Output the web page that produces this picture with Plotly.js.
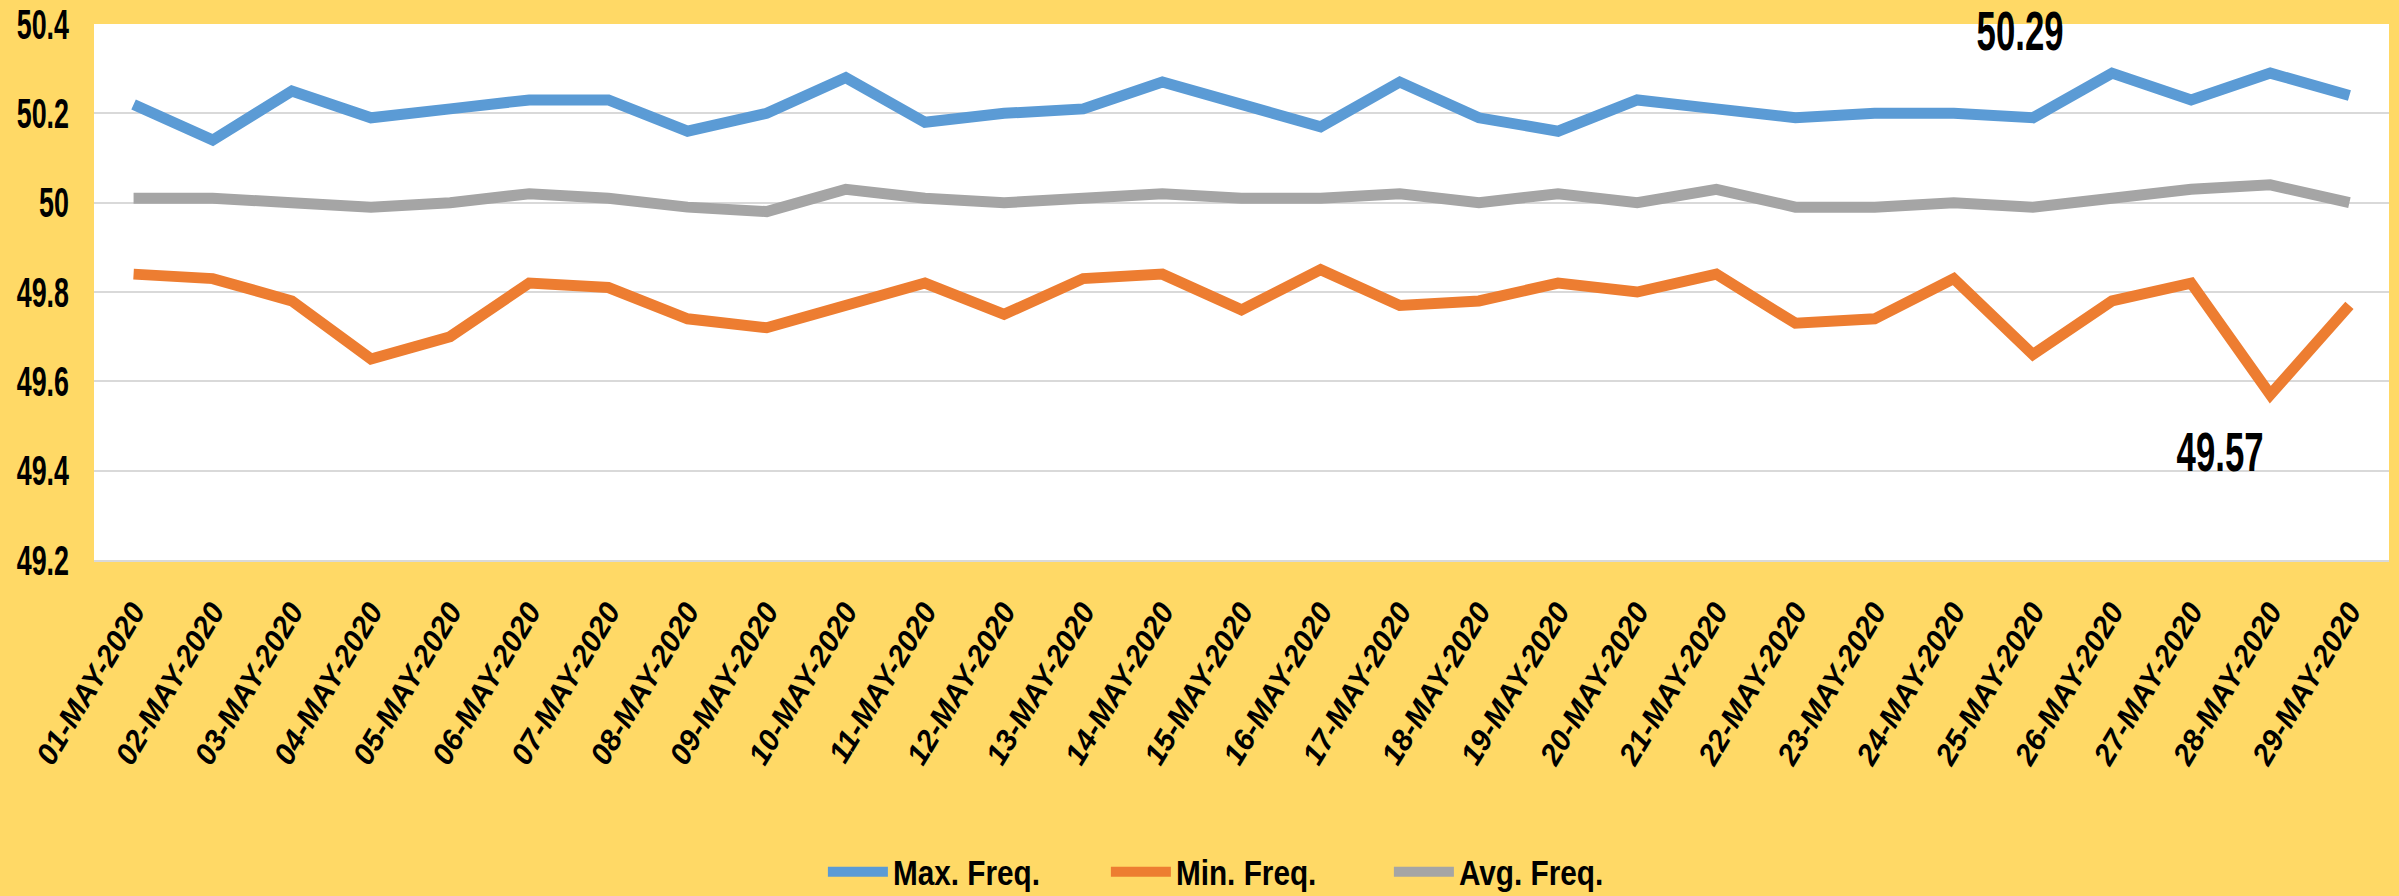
<!DOCTYPE html>
<html>
<head>
<meta charset="utf-8">
<script src="https://cdn.plot.ly/plotly-3.0.1.min.js"></script>
<style>
  html, body { margin: 0; padding: 0; background: #FFD966; }
  #chart { width: 2399px; height: 896px; }
</style>
</head>
<body>
<div id="chart"></div>
<script>
var days = ['01-MAY-2020', '02-MAY-2020', '03-MAY-2020', '04-MAY-2020', '05-MAY-2020',
    '06-MAY-2020', '07-MAY-2020', '08-MAY-2020', '09-MAY-2020', '10-MAY-2020',
    '11-MAY-2020', '12-MAY-2020', '13-MAY-2020', '14-MAY-2020', '15-MAY-2020',
    '16-MAY-2020', '17-MAY-2020', '18-MAY-2020', '19-MAY-2020', '20-MAY-2020',
    '21-MAY-2020', '22-MAY-2020', '23-MAY-2020', '24-MAY-2020', '25-MAY-2020',
    '26-MAY-2020', '27-MAY-2020', '28-MAY-2020', '29-MAY-2020'];

var maxFreq = [50.22, 50.14, 50.25, 50.19, 50.21, 50.23, 50.23, 50.16, 50.20, 50.28,
    50.18, 50.20, 50.21, 50.27, 50.22, 50.17, 50.27, 50.19, 50.16, 50.23,
    50.21, 50.19, 50.20, 50.20, 50.19, 50.29, 50.23, 50.29, 50.24];

var minFreq = [49.84, 49.83, 49.78, 49.65, 49.70, 49.82, 49.81, 49.74, 49.72, 49.77,
    49.82, 49.75, 49.83, 49.84, 49.76, 49.85, 49.77, 49.78, 49.82, 49.80,
    49.84, 49.73, 49.74, 49.83, 49.66, 49.78, 49.82, 49.57, 49.77];

var avgFreq = [50.01, 50.01, 50.00, 49.99, 50.00, 50.02, 50.01, 49.99, 49.98, 50.03,
    50.01, 50.00, 50.01, 50.02, 50.01, 50.01, 50.02, 50.00, 50.02, 50.00,
    50.03, 49.99, 49.99, 50.00, 49.99, 50.01, 50.03, 50.04, 50.00];

var seriesNames = ['Max. Freq.', 'Min. Freq.', 'Avg. Freq.'];
var seriesColors = ['#5B9BD5', '#ED7D31', '#A5A5A5'];

var sans = '"Liberation Sans", Arial, sans-serif';

function makeTrace(yvals, i) {
    return {
        x: days,
        y: yvals,
        name: seriesNames[i],
        type: 'scatter',
        mode: 'lines',
        line: { color: seriesColors[i], width: 11 }
    };
}

var traces = [makeTrace(maxFreq, 0), makeTrace(minFreq, 1), makeTrace(avgFreq, 2)];

var layout = {
    width: 2399,
    height: 896,
    paper_bgcolor: '#FFD966',
    plot_bgcolor: '#FFFFFF',
    margin: { l: 94, r: 10, t: 24, b: 336, autoexpand: false },
    showlegend: true,
    legend: {
        orientation: 'h',
        x: 0.3176,
        xanchor: 'left',
        y: -0.582,
        yanchor: 'middle',
        itemwidth: 60,
        entrywidth: 208,
        entrywidthmode: 'pixels',
        font: { family: sans, size: 35, color: '#000', weight: 'bold' },
        bgcolor: 'rgba(0,0,0,0)'
    },
    xaxis: {
        type: 'category',
        automargin: false,
        range: [-0.5, days.length - 0.5],
        tickangle: -59,
        tickfont: { family: sans, size: 30, color: '#000', weight: 'bold', style: 'italic' },
        ticks: '',
        ticklabelstandoff: 20,
        showgrid: false,
        showline: true,
        linecolor: '#D9D9D9',
        linewidth: 2,
        zeroline: false,
        fixedrange: true
    },
    yaxis: {
        automargin: false,
        range: [49.2, 50.4],
        dtick: 0.2,
        tick0: 49.2,
        tickfont: { family: sans, size: 42, color: '#000', weight: 'bold' },
        ticks: '',
        ticklabelstandoff: 24,
        showgrid: true,
        gridcolor: '#D9D9D9',
        gridwidth: 2,
        zeroline: false,
        showline: false,
        fixedrange: true
    },
    annotations: [
        {
            x: 23.84, y: 50.385, xref: 'x', yref: 'y',
            text: '50.29', showarrow: false,
            font: { family: sans, size: 56, color: '#000', weight: 'bold' }
        },
        {
            x: 26.36, y: 49.444, xref: 'x', yref: 'y',
            text: '49.57', showarrow: false,
            font: { family: sans, size: 56, color: '#000', weight: 'bold' }
        }
    ]
};

// the original uses a tall condensed face; squeeze the glyphs sideways
function squeeze(selector, factor) {
    document.querySelectorAll(selector).forEach(function (t) {
        var w = t.getComputedTextLength();
        t.setAttribute('textLength', (w * factor).toFixed(1));
        t.setAttribute('lengthAdjust', 'spacingAndGlyphs');
    });
}

Plotly.newPlot('chart', traces, layout, { displayModeBar: false, staticPlot: true }).then(function () {
    squeeze('.ytick text', 0.64);
    squeeze('.annotation-text', 0.62);
    squeeze('.legendtext', 0.85);
});
</script>
</body>
</html>
